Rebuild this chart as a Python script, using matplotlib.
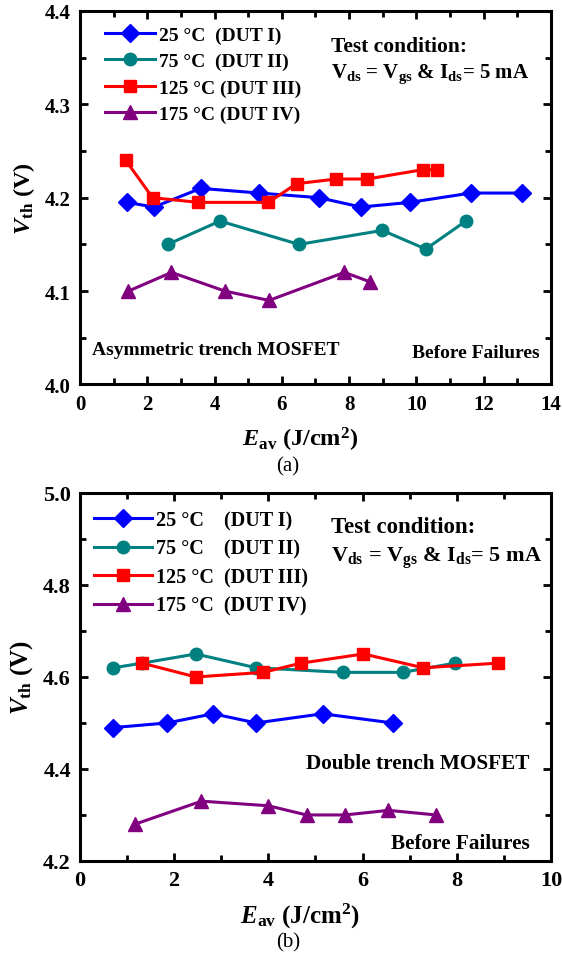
import matplotlib
matplotlib.use("Agg")
import matplotlib.pyplot as plt
from matplotlib.ticker import MultipleLocator, FormatStrFormatter

plt.rcParams['font.family'] = ['Liberation Serif', 'DejaVu Serif']
plt.rcParams['font.weight'] = 'bold'
plt.rcParams['mathtext.fontset'] = 'custom'
plt.rcParams['mathtext.rm'] = 'Liberation Serif:bold'
plt.rcParams['mathtext.bf'] = 'Liberation Serif:bold'
plt.rcParams['mathtext.it'] = 'Liberation Serif:bold:italic'

# (a) asymmetric trench MOSFET
a_e25 = [1.39, 2.20, 3.59, 5.32, 7.11, 8.35, 9.81, 11.62, 13.13]
a_v25 = [4.195, 4.19, 4.21, 4.205, 4.20, 4.19, 4.195, 4.205, 4.205]
a_e75 = [2.61, 4.16, 6.51, 8.99, 10.28, 11.47]
a_v75 = [4.15, 4.175, 4.15, 4.165, 4.145, 4.175]
a_e125 = [1.36, 2.16, 3.52, 5.60, 6.44, 7.61, 8.54, 10.19, 10.60]
a_v125 = [4.24, 4.20, 4.195, 4.195, 4.215, 4.22, 4.22, 4.23, 4.23]
a_e175 = [1.44, 2.72, 4.31, 5.62, 7.86, 8.62]
a_v175 = [4.10, 4.12, 4.10, 4.09, 4.12, 4.11]

# (b) double trench MOSFET
b_e25 = [0.71, 1.85, 2.83, 3.74, 5.15, 6.64]
b_v25 = [4.49, 4.50, 4.52, 4.50, 4.52, 4.50]
b_e75 = [0.71, 1.32, 2.46, 3.74, 5.59, 6.85, 7.96]
b_v75 = [4.62, 4.63, 4.65, 4.62, 4.61, 4.61, 4.63]
b_e125 = [1.32, 2.46, 3.89, 4.69, 6.02, 7.29, 8.87]
b_v125 = [4.63, 4.60, 4.61, 4.63, 4.65, 4.62, 4.63]
b_e175 = [1.17, 2.58, 4.00, 4.81, 5.63, 6.55, 7.56]
b_v175 = [4.28, 4.33, 4.32, 4.30, 4.30, 4.31, 4.30]

labels_a = ['25 \u00b0C  (DUT I)', '75 \u00b0C  (DUT II)', '125 \u00b0C (DUT III)', '175 \u00b0C (DUT IV)']
labels_b = ['25 \u00b0C    (DUT I)', '75 \u00b0C    (DUT II)', '125 \u00b0C  (DUT III)', '175 \u00b0C  (DUT IV)']
colors = ['#0000FF', '#008080', '#FF0000', '#800080']
markers = ['D', 'o', 's', '^']
msizes = [9.5, 9, 8.5, 9.5]

fig = plt.figure(figsize=(5.62, 9.62), dpi=100)
ax1 = fig.add_axes([0.1423, 0.5993, 0.838, 0.3883])
ax2 = fig.add_axes([0.1423, 0.104, 0.838, 0.3825])


def style(ax, xmax, ymin, ymax, ymaj, ymin_step, tsize, lsize, xpad):
    ax.set_xlim(0, xmax)
    ax.set_ylim(ymin, ymax)
    ax.xaxis.set_major_locator(MultipleLocator(2))
    ax.xaxis.set_minor_locator(MultipleLocator(1))
    ax.yaxis.set_major_locator(MultipleLocator(ymaj))
    ax.yaxis.set_minor_locator(MultipleLocator(ymin_step))
    ax.yaxis.set_major_formatter(FormatStrFormatter('%.1f'))
    ax.tick_params(which='both', direction='in', top=True, right=True, width=2, labelsize=tsize, pad=6.5)
    ax.tick_params(which='major', length=6)
    ax.tick_params(which='minor', length=4)
    for s in ax.spines.values():
        s.set_linewidth(2.2)
    for lab in ax.get_xticklabels() + ax.get_yticklabels():
        lab.set_fontweight('bold')
    ax.set_xlabel('$E$$_\\mathrm{av}$ (J/cm$^\\mathrm{2}$)', fontsize=lsize, fontweight='bold', labelpad=xpad, x=0.467)
    ax.set_ylabel('$V$$_\\mathrm{th}$ (V)', fontsize=lsize, fontweight='bold', labelpad=5.5)


series_a = [(a_e25, a_v25), (a_e75, a_v75), (a_e125, a_v125), (a_e175, a_v175)]
for (x, y), c, m, ms, lab in zip(series_a, colors, markers, msizes, labels_a):
    ax1.plot(x, y, color=c, marker=m, markersize=ms, linewidth=2.2, label=lab)
style(ax1, 14, 4.0, 4.4, 0.1, 0.05, 15, 17.5, 8.5)
ax1.legend(loc='upper left', bbox_to_anchor=(0.032, 0.985), frameon=False,
           handlelength=2.6, handletextpad=0.2, labelspacing=0.45, borderpad=0,
           prop={'weight': 'bold', 'size': 14})
ax1.text(0.533, 0.894, 'Test condition:', transform=ax1.transAxes, fontsize=15.5, fontweight='bold', va='baseline')
ax1.text(0.533, 0.823, 'V$_\\mathrm{ds}$ = V$_\\mathrm{gs}$ & I$_\\mathrm{ds}$= 5 mA', transform=ax1.transAxes,
         fontsize=15, fontweight='bold', va='baseline')
ax1.text(0.025, 0.082, 'Asymmetric trench MOSFET', transform=ax1.transAxes, fontsize=14, fontweight='bold', va='baseline')
ax1.text(0.977, 0.074, 'Before Failures', transform=ax1.transAxes, fontsize=14, fontweight='bold', va='baseline', ha='right')
fig.text(288 / 562, 1 - 467 / 962, '(a)', ha='center', va='center', fontsize=15, fontweight='normal')

series_b = [(b_e25, b_v25), (b_e75, b_v75), (b_e125, b_v125), (b_e175, b_v175)]
for (x, y), c, m, ms, lab in zip(series_b, colors, markers, msizes, labels_b):
    ax2.plot(x, y, color=c, marker=m, markersize=ms, linewidth=2.2, label=lab)
style(ax2, 10, 4.2, 5.0, 0.2, 0.1, 16, 18, 7.5)
ax2.legend(loc='upper left', bbox_to_anchor=(0.0085, 0.98), frameon=False,
           handlelength=2.9, handletextpad=0.2, labelspacing=0.42, borderpad=0,
           prop={'weight': 'bold', 'size': 14.5})
ax2.text(0.533, 0.894, 'Test condition:', transform=ax2.transAxes, fontsize=16.5, fontweight='bold', va='baseline')
ax2.text(0.533, 0.815, 'V$_\\mathrm{ds}$ = V$_\\mathrm{gs}$ & I$_\\mathrm{ds}$= 5 mA', transform=ax2.transAxes,
         fontsize=16, fontweight='bold', va='baseline')
ax2.text(0.955, 0.253, 'Double trench MOSFET', transform=ax2.transAxes, fontsize=15.3, fontweight='bold', va='baseline', ha='right')
ax2.text(0.955, 0.035, 'Before Failures', transform=ax2.transAxes, fontsize=15.3, fontweight='bold', va='baseline', ha='right')
fig.text(288 / 562, 1 - 943 / 962, '(b)', ha='center', va='center', fontsize=15, fontweight='normal')

fig.savefig('out.png', dpi=100)
